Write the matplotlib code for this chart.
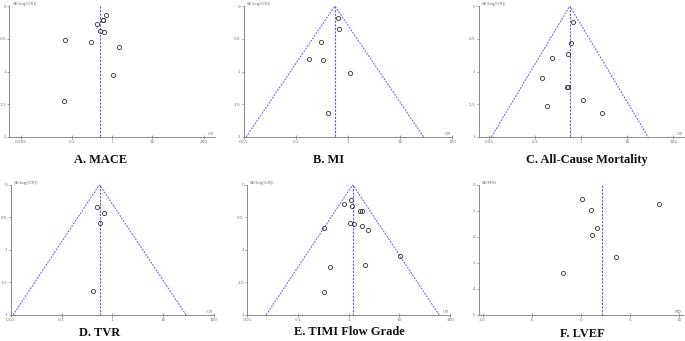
import numpy as np
import matplotlib
matplotlib.use("Agg")
import matplotlib.pyplot as plt

# ---------------- data ----------------
# A. MACE
a_or = [0.69, 0.58, 0.59, 0.41, 0.51, 0.64, 0.067, 0.30, 1.52, 1.08, 0.063]
a_se = [0.14, 0.22, 0.22, 0.28, 0.38, 0.39, 0.52, 0.55, 0.62, 1.05, 1.45]
a_pooled = 0.49
a_xticks = [0.005, 0.1, 1, 10, 200]
a_xticklabels = ["0.005", "0.1", "1", "10", "200"]

# B. MI
b_or = [0.65, 0.68, 0.31, 0.178, 0.33, 1.11, 0.41]
b_se = [0.19, 0.35, 0.55, 0.81, 0.82, 1.02, 1.63]
b_pooled = 0.56

# C. All-Cause Mortality
c_or = [0.66, 0.61, 0.52, 0.235, 0.141, 0.48, 0.51, 1.09, 0.175, 2.87]
c_se = [0.24, 0.57, 0.73, 0.79, 1.10, 1.23, 1.23, 1.44, 1.52, 1.63]
c_pooled = 0.56

# D. TVR
d_or = [0.51, 0.68, 0.56, 0.42]
d_se = [0.34, 0.44, 0.59, 1.63]
d_pooled = 0.56

# E. TIMI Flow Grade
e_or = [1.09, 0.81, 1.15, 1.70, 1.83, 1.06, 1.25, 1.80, 2.40, 0.33, 10.4, 0.42, 2.1, 0.33]
e_se = [0.235, 0.30, 0.32, 0.41, 0.40, 0.59, 0.61, 0.63, 0.69, 0.67, 1.09, 1.27, 1.24, 1.64]
e_pooled = 1.2

# F. LVEF
f_md = [0.135, 0.98, 1.66, 1.15, 3.61, 7.97, -1.86]
f_se = [0.56, 0.99, 1.65, 1.95, 2.77, 0.74, 3.40]
f_pooled = 2.16

or_xticks = [0.01, 0.1, 1, 10, 100]
or_xticklabels = ["0.01", "0.1", "1", "10", "100"]
se_yticks = [0, 0.5, 1, 1.5, 2]
se_yticklabels = ["0", "0.5", "1", "1.5", "2"]
md_xticks = [-10, -5, 0, 5, 10]
md_xticklabels = ["-10", "-5", "0", "5", "10"]
md_yticks = [0, 1, 2, 3, 4, 5]
md_yticklabels = ["0", "1", "2", "3", "4", "5"]

titles = ["A. MACE", "B. MI", "C. All-Cause Mortality", "D. TVR",
          "E. TIMI Flow Grade", "F. LVEF"]

# ---------------- style ----------------
W, H = 685, 341
fig = plt.figure(figsize=(W / 100, H / 100), dpi=100)
fig.patch.set_facecolor("white")

AX_COL = "#8a8a8a"
TXT_COL = "#777777"
DASH_COL = "#5f5fd8"
PT_COL = "#333333"
TICK_FS = 3.1


def make_ax(left, right, top, bottom):
    return fig.add_axes([left / W, 1 - bottom / H, (right - left) / W, (bottom - top) / H])


def style(ax, xticks, xlabels, yticks, ylabels, ylab, xlab):
    for s in ["top", "right"]:
        ax.spines[s].set_visible(False)
    for s in ["left", "bottom"]:
        ax.spines[s].set_color(AX_COL)
        ax.spines[s].set_linewidth(0.7)
    ax.set_xticks(xticks)
    ax.set_xticklabels(xlabels)
    ax.set_yticks(yticks)
    ax.set_yticklabels(ylabels)
    ax.minorticks_off()
    ax.tick_params(axis="x", direction="inout", length=3, width=0.6, colors=AX_COL,
                   labelsize=TICK_FS, labelcolor=TXT_COL, pad=1)
    ax.tick_params(axis="y", direction="out", length=1.6, width=0.6, colors=AX_COL,
                   labelsize=TICK_FS, labelcolor=TXT_COL, pad=0.6)
    ax.patch.set_alpha(0)
    ax.text(0.015, 1.0, ylab, transform=ax.transAxes, fontsize=TICK_FS, color=TXT_COL,
            ha="left", va="bottom")
    ax.text(0.995, 0.005, xlab, transform=ax.transAxes, fontsize=TICK_FS, color=TXT_COL,
            ha="right", va="bottom")


def points(ax, x, y):
    ax.plot(x, y, linestyle="none", marker="o", markersize=3.0, markerfacecolor="none",
            markeredgecolor=PT_COL, markeredgewidth=0.6, clip_on=False)


def vline(ax, x, ymax):
    ax.plot([x, x], [0, ymax], color=DASH_COL, linestyle=(0, (2, 1.2)), linewidth=0.8)


def funnel(ax, pooled, semax):
    lo = np.exp(np.log(pooled) - 1.96 * semax)
    hi = np.exp(np.log(pooled) + 1.96 * semax)
    ax.plot([lo, pooled, hi], [semax, 0, semax], color=DASH_COL,
            linestyle=(0, (2, 1.2)), linewidth=0.7)


# A
ax = make_ax(9.3, 215, 6, 137)
ax.set_xscale("log")
ax.set_xlim(10 ** -2.585, 10 ** 2.59)
ax.set_ylim(2, 0)
vline(ax, a_pooled, 2)
points(ax, a_or, a_se)
style(ax, a_xticks, a_xticklabels, se_yticks, se_yticklabels, "SE(log[OR])", "OR")

# B
ax = make_ax(243.7, 452.3, 6, 137)
ax.set_xscale("log")
ax.set_xlim(0.01, 100)
ax.set_ylim(2, 0)
funnel(ax, b_pooled, 2)
vline(ax, b_pooled, 2)
points(ax, b_or, b_se)
style(ax, or_xticks, or_xticklabels, se_yticks, se_yticklabels, "SE(log[OR])", "OR")

# C
ax = make_ax(478.7, 684, 6, 137)
ax.set_xscale("log")
ax.set_xlim(10 ** -2.23, 10 ** 2.23)
ax.set_ylim(2, 0)
funnel(ax, c_pooled, 2)
vline(ax, c_pooled, 2)
points(ax, c_or, c_se)
style(ax, or_xticks, or_xticklabels, se_yticks, se_yticklabels, "SE(log[OR])", "OR")

# D
ax = make_ax(10.7, 214, 184.7, 315)
ax.set_xscale("log")
ax.set_xlim(0.01, 100)
ax.set_ylim(2, 0)
funnel(ax, d_pooled, 2)
vline(ax, d_pooled, 2)
points(ax, d_or, d_se)
style(ax, or_xticks, or_xticklabels, se_yticks, se_yticklabels, "SE(log[OR])", "OR")

# E
ax = make_ax(247, 450.3, 184.7, 315)
ax.set_xscale("log")
ax.set_xlim(0.01, 100)
ax.set_ylim(2, 0)
funnel(ax, e_pooled, 2)
vline(ax, e_pooled, 2)
points(ax, e_or, e_se)
style(ax, or_xticks, or_xticklabels, se_yticks, se_yticklabels, "SE(log[OR])", "OR")

# F
ax = make_ax(478.7, 682.7, 184.7, 314.7)
ax.set_xlim(-10.4, 10.35)
ax.set_ylim(5, 0)
vline(ax, f_pooled, 5)
points(ax, f_md, f_se)
style(ax, md_xticks, md_xticklabels, md_yticks, md_yticklabels, "SE(MD)", "MD")

# titles
title_pos = [(101, 160), (329, 160), (587, 160), (100, 333), (349, 332), (582.5, 334)]
for t, (x, y) in zip(titles, title_pos):
    fig.text(x / W, 1 - y / H, t, ha="center", va="center", fontsize=9,
             fontweight="bold", family="Liberation Serif", color="#111111")

fig.savefig("out.png", dpi=100, facecolor="white")
